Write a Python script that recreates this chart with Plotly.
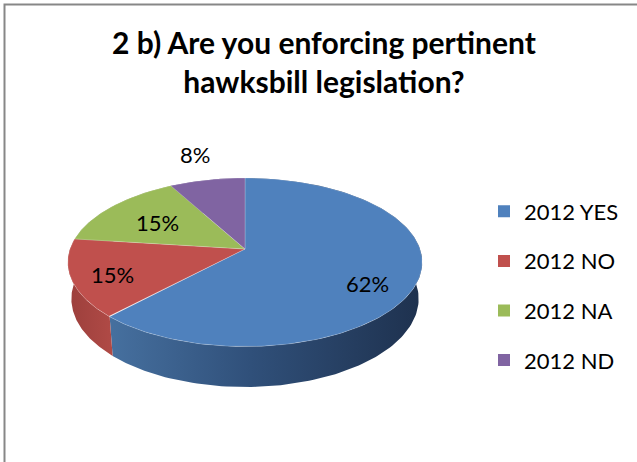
import numpy as np
import plotly.graph_objects as go

# Survey answers (share of respondents, %)
categories = ["2012 YES", "2012 NO", "2012 NA", "2012 ND"]
shares = [62, 15, 15, 8]
pct_labels = ["62%", "15%", "15%", "8%"]

# Styling
colors = ["#4F81BD", "#C0504D", "#9BBB59", "#8064A2"]
side_scales = [
    [[0, "#46709F"], [0.45, "#30507A"], [1, "#1E314E"]],
    [[0, "#9C3F3C"], [1, "#B04A46"]],
    [[0, "#7C9647"], [1, "#8CA850"]],
    [[0, "#6A5388"], [1, "#735B92"]],
]
label_radius = [0.72, 0.77, 0.635, 1.4]
label_nudge = [(0, 12), (0, 3), (0, 1), (0, -3)]

W, H = 637, 462
CX, CY = 245, 249          # screen position of the pie apex
TILT = np.radians(28)      # camera elevation
DIST = 5.6                 # camera distance (in pie radii)
FOCAL = 980
DEPTH = 0.2385             # pie thickness (in pie radii)
FONT = "Lato"


def project(r, phi, y):
    """Perspective projection of a point on the pie (phi clockwise from back)."""
    x = r * np.sin(phi)
    z = r * np.cos(phi)
    yc = y * np.cos(TILT) + z * np.sin(TILT)
    zc = -y * np.sin(TILT) + z * np.cos(TILT) + DIST
    return CX + FOCAL * x / zc, CY - FOCAL * yc / zc


total = float(sum(shares))
edges = np.concatenate([[0.0], np.cumsum(shares)]) / total * 2 * np.pi

fig = go.Figure()

# Outer walls of the slices
for i, name in enumerate(categories):
    phi = np.linspace(edges[i], edges[i + 1], 160)
    tx, ty = project(1.0, phi, 0.0)
    bx, by = project(1.0, phi[::-1], -DEPTH)
    fig.add_trace(go.Scatter(
        x=np.concatenate([tx, bx]), y=np.concatenate([ty, by]),
        mode="lines", fill="toself", line=dict(width=0),
        fillgradient=dict(type="horizontal", colorscale=side_scales[i]),
        legendgroup=name, showlegend=False, hoverinfo="skip",
    ))

# Top faces of the slices
for i, name in enumerate(categories):
    phi = np.linspace(edges[i], edges[i + 1], 160)
    rx, ry = project(1.0, phi, 0.0)
    ax, ay = project(0.0, 0.0, 0.0)
    fig.add_trace(go.Scatter(
        x=np.concatenate([[ax], rx, [ax]]), y=np.concatenate([[ay], ry, [ay]]),
        mode="lines", fill="toself", fillcolor=colors[i],
        line=dict(width=0.8, color="rgba(255,255,255,0.25)"),
        legendgroup=name, showlegend=False, name=name,
        hovertemplate=f"{name}: {pct_labels[i]}<extra></extra>",
    ))

# Legend entries
for i, name in enumerate(categories):
    fig.add_trace(go.Scatter(
        x=[None], y=[None], mode="markers", name=name,
        marker=dict(symbol="square", size=14, color=colors[i]),
        legendgroup=name, showlegend=True,
    ))

# Percentage labels
for i, text in enumerate(pct_labels):
    mid = 0.5 * (edges[i] + edges[i + 1])
    lx, ly = project(label_radius[i], mid, 0.0)
    dx, dy = label_nudge[i]
    fig.add_annotation(x=lx + dx, y=ly + dy, text=text, showarrow=False,
                       font=dict(family=FONT, size=22, color="black"))

# Chart-area frame
fig.add_shape(type="path", path="M 4.5 470 L 4.5 4.5 L 645 4.5",
              line=dict(color="#878787", width=2))

fig.update_layout(
    width=W, height=H,
    margin=dict(l=0, r=0, t=0, b=0),
    paper_bgcolor="white", plot_bgcolor="white",
    xaxis=dict(range=[0, W], visible=False, fixedrange=True),
    yaxis=dict(range=[H, 0], visible=False, fixedrange=True),
    title=dict(
        text="2 b) Are you enforcing pertinent<br>hawksbill legislation?",
        x=324 / W, xanchor="center", y=1 - 54 / H, yanchor="top",
        font=dict(family=FONT, size=30, color="black", weight="bold"),
    ),
    legend=dict(
        x=484 / W, xanchor="left", y=1 - 286 / H, yanchor="middle",
        font=dict(family=FONT, size=22, color="black"),
        tracegroupgap=18, itemsizing="constant", bgcolor="rgba(0,0,0,0)",
    ),
    showlegend=True,
)

fig.write_html("out.html")
